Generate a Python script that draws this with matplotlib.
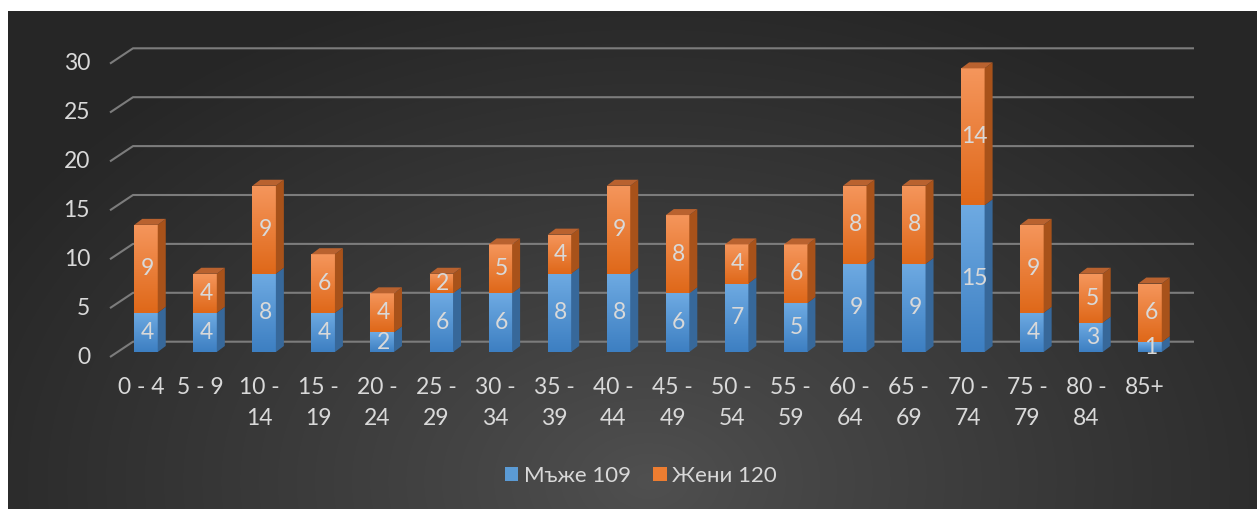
import numpy as np
import matplotlib
matplotlib.use("Agg")
import matplotlib.pyplot as plt
from matplotlib.patches import Polygon, Rectangle
from matplotlib.colors import LinearSegmentedColormap

# ---- data ----
categories = ["0 - 4", "5 - 9", "10 - 14", "15 - 19", "20 - 24", "25 - 29", "30 - 34",
              "35 - 39", "40 - 44", "45 - 49", "50 - 54", "55 - 59", "60 - 64",
              "65 - 69", "70 - 74", "75 - 79", "80 - 84", "85+"]
men = [4, 4, 8, 4, 2, 6, 6, 8, 8, 6, 7, 5, 9, 9, 15, 4, 3, 1]
women = [9, 4, 9, 6, 4, 2, 5, 4, 9, 8, 4, 6, 8, 8, 14, 9, 5, 6]
series_names = ["Мъже 109", "Жени 120"]
yticks = [0, 5, 10, 15, 20, 25, 30]

plt.rcParams['font.family'] = ['Lato', 'Noto Sans', 'DejaVu Sans']
TXT = '#d9d9d9'
FS = 16.5

W, H = 1257, 509
fig = plt.figure(figsize=(W / 100, H / 100), dpi=100)
fig.patch.set_facecolor('white')

# background panel with radial gradient
bg = fig.add_axes([8 / W, 0, 1 - 8 / W, (H - 11) / H])
bg.set_axis_off()
yy, xx = np.mgrid[0:498, 0:1249]
cx, cy = 640, 470
r = np.sqrt(((xx - cx) / 760.0) ** 2 + ((yy - cy) / 520.0) ** 2)
r = np.clip(r, 0, 1)
inner, outer = 0x50 / 255, 0x26 / 255
val = inner + (outer - inner) * r ** 0.9
bg.imshow(np.dstack([val, val, val]), aspect='auto', interpolation='bilinear')

# main axes mapped to pixel layout
ax = fig.add_axes([0, 0, 1, 1])
ax.patch.set_alpha(0)
ax.set_axis_off()
px_cat = 59.06
px_unit = 9.78
x0px = 146
y0px_from_bottom = H - 352
ax.set_xlim(-x0px / px_cat, (W - x0px) / px_cat)
ax.set_ylim(-y0px_from_bottom / px_unit, (H - y0px_from_bottom) / px_unit)

bw = 23.5 / px_cat
ddx = 8 / px_cat
ddy = 6 / px_unit

# gridlines
back_off = (352 - 341.7) / px_unit
front_off = (352 - 357) / px_unit
gx0 = (110 - x0px) / px_cat
gx1 = (133 - x0px) / px_cat
gx2 = (1194 - x0px) / px_cat
for v in yticks:
    ax.plot([gx0, gx1, gx2], [v + front_off, v + back_off, v + back_off],
            color='#7c7c7c', lw=1.5, zorder=1, solid_capstyle='butt')
    ax.text((90 - x0px) / px_cat, v + front_off, str(v), ha='right', va='center',
            color=TXT, fontsize=FS, zorder=5)

blue_cmap = LinearSegmentedColormap.from_list('b', ['#3d7fc2', '#6eaae2'])
orange_cmap = LinearSegmentedColormap.from_list('o', ['#df6819', '#f5965c'])
grad = np.linspace(0, 1, 64).reshape(-1, 1)


def bar3d(x, y0, y1, cmap, side, top, z):
    xl, xr = x - bw / 2, x + bw / 2
    rect = Rectangle((xl, y0), bw, y1 - y0, facecolor='none', edgecolor='none')
    ax.add_patch(rect)
    im = ax.imshow(grad, cmap=cmap, extent=[xl, xr, y0, y1], origin='lower',
                   aspect='auto', interpolation='bilinear', zorder=z)
    im.set_clip_path(rect)
    ax.add_patch(Polygon([(xr, y0), (xr + ddx, y0 + ddy), (xr + ddx, y1 + ddy), (xr, y1)],
                         closed=True, facecolor=side, edgecolor='none', zorder=z))
    if top is not None:
        ax.add_patch(Polygon([(xl, y1), (xr, y1), (xr + ddx, y1 + ddy), (xl + ddx, y1 + ddy)],
                             closed=True, facecolor=top, edgecolor='none', zorder=z))


for i, cat in enumerate(categories):
    m, w = men[i], women[i]
    bar3d(i, 0, m, blue_cmap, '#37689a', None, 2)
    bar3d(i, m, m + w, orange_cmap, '#a8521a', '#b9622f', 2)
    ax.text(i + 0.02, m / 2, str(m), ha='center', va='center', color=TXT, fontsize=FS, zorder=6)
    ax.text(i + 0.02, m + w / 2, str(w), ha='center', va='center', color=TXT, fontsize=FS, zorder=6)
    # category labels (wrapped like the original)
    if len(cat) > 5 and ' - ' in cat:
        a, b = cat.split(' - ')
        lines = [a + ' -', b]
    else:
        lines = [cat]
    for k, ln in enumerate(lines):
        ax.text(i - 0.085, (352 - 388 - 30.5 * k) / px_unit, ln, ha='center', va='center',
                color=TXT, fontsize=FS, zorder=6)

# legend
handles = [Rectangle((0, 0), 1, 1, facecolor='#5b9bd5'), Rectangle((0, 0), 1, 1, facecolor='#ed7d31')]
leg = fig.legend(handles, series_names, loc='center', bbox_to_anchor=(641 / W, 1 - 476 / H),
                 ncol=2, frameon=False, fontsize=16, labelcolor=TXT,
                 handlelength=0.6, handleheight=0.6, handletextpad=0.25, columnspacing=1.0)

fig.savefig('out.png', dpi=100, facecolor='white')
